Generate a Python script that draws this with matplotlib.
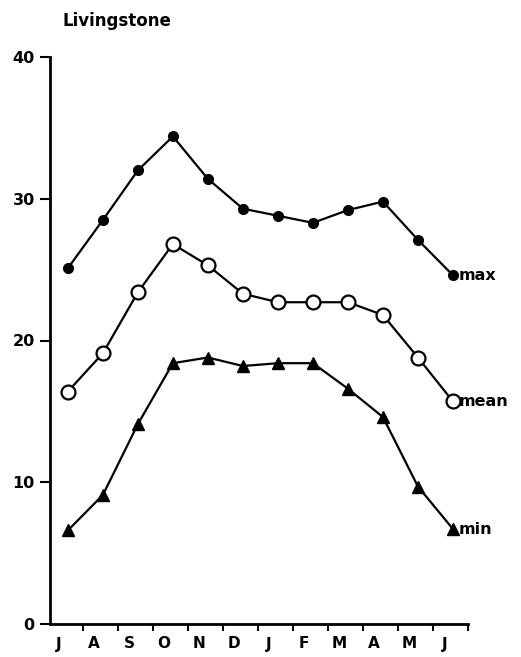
import numpy as np
import matplotlib.pyplot as plt
from matplotlib.ticker import FixedLocator

plt.rcParams['font.family'] = ['DejaVu Sans']
plt.rcParams['font.weight'] = 'bold'

months = ['J', 'A', 'S', 'O', 'N', 'D', 'J', 'F', 'M', 'A', 'M', 'J']
t_max = [25.1, 28.5, 32.0, 34.4, 31.4, 29.3, 28.8, 28.3, 29.2, 29.8, 27.1, 24.6]
t_mean = [16.4, 19.1, 23.4, 26.8, 25.3, 23.3, 22.7, 22.7, 22.7, 21.8, 18.8, 15.7]
t_min = [6.6, 9.1, 14.1, 18.4, 18.8, 18.2, 18.4, 18.4, 16.6, 14.6, 9.7, 6.7]

x = np.arange(len(months))

fig = plt.figure(figsize=(5.21, 6.57), dpi=100)
ax = fig.add_axes([50/521, 1 - 624/657, (468 - 50)/521, (624 - 57)/657])

ax.plot(x, t_max, color='black', lw=1.6, marker='o', ms=7, mfc='black', mec='black')
ax.plot(x, t_mean, color='black', lw=1.6, marker='o', ms=10, mfc='white', mec='black', mew=1.6)
ax.plot(x, t_min, color='black', lw=1.6, marker='^', ms=9, mfc='black', mec='black')

for vals, name in [(t_max, 'max'), (t_mean, 'mean'), (t_min, 'min')]:
    ax.annotate(name, (x[-1], vals[-1]), xytext=(4, 0), textcoords='offset points',
                va='center', ha='left', fontsize=11.5, fontweight='bold',
                annotation_clip=False)

ax.set_xlim(-0.51, 11.43)
ax.set_ylim(0, 40)
ax.set_yticks([0, 10, 20, 30, 40])
ax.tick_params(axis='y', direction='out', length=7, width=1.5, labelsize=11.5, pad=4)

# month labels sit a little left of the points, ticks fall between months
ax.xaxis.set_major_locator(FixedLocator(x - 0.25))
ax.set_xticklabels(months)
ax.xaxis.set_minor_locator(FixedLocator(x + 0.43))
ax.tick_params(axis='x', which='major', length=0, labelsize=11, pad=9)
ax.tick_params(axis='x', which='minor', direction='out', length=5, width=1.5)

for lab in ax.get_xticklabels() + ax.get_yticklabels():
    lab.set_fontweight('bold')

ax.spines['top'].set_visible(False)
ax.spines['right'].set_visible(False)
ax.spines['left'].set_linewidth(2)
ax.spines['bottom'].set_linewidth(2)

fig.text(63/521, 1 - 21/657, 'Livingstone', fontsize=12, fontweight='bold',
         ha='left', va='center')

fig.savefig('out.png', dpi=100)
